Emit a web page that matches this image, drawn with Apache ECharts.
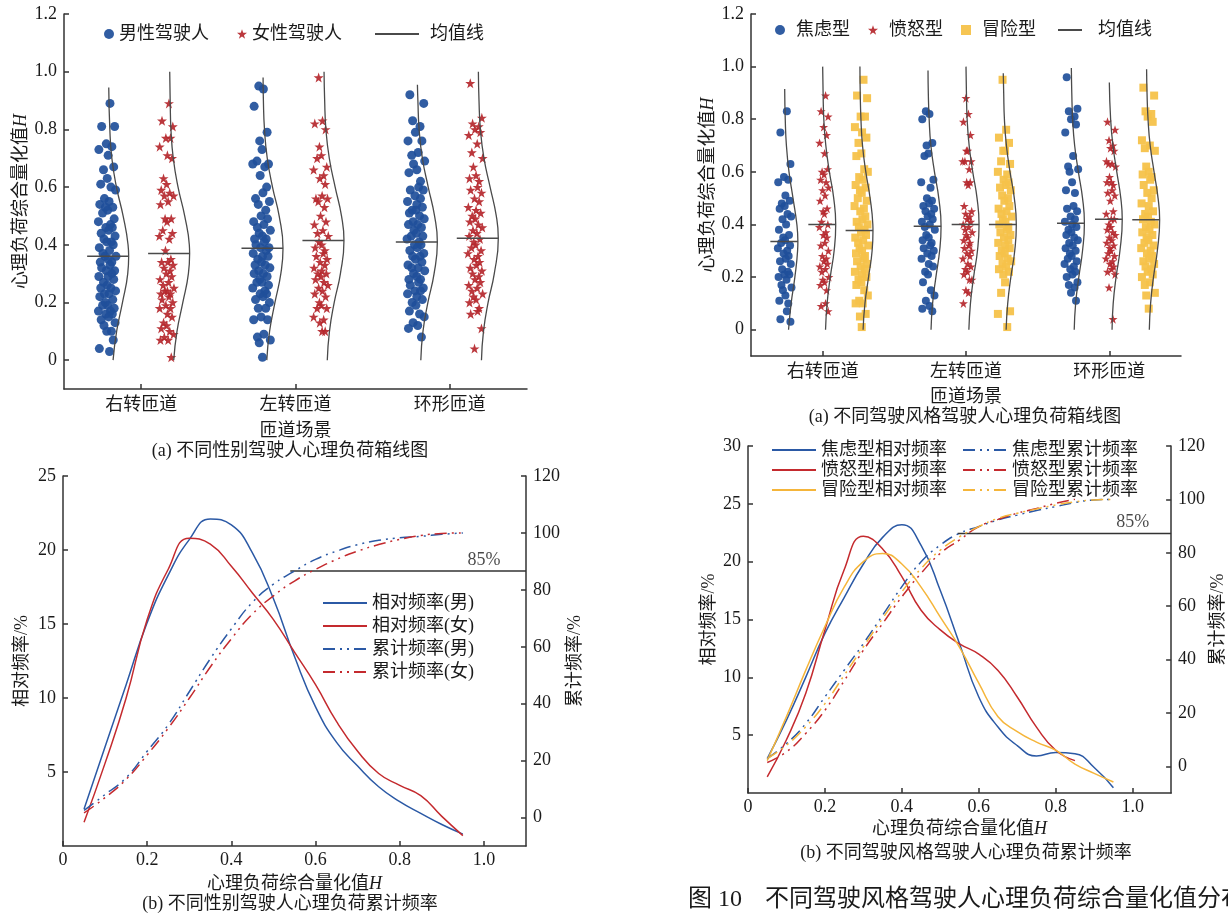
<!DOCTYPE html>
<html>
<head>
<meta charset="utf-8">
<script src="https://cdn.jsdelivr.net/npm/echarts@6/dist/echarts.min.js"></script>
<style>
html, body { margin: 0; padding: 0; background: #fff; }
#main { width: 1228px; height: 917px; }
</style>
</head>
<body>
<div id="main"></div>
<script>
// 匝道场景
const SCENES = ['右转匝道', '左转匝道', '环形匝道'];

// (a) 左图：性别，三个场景各一组
const MALE_R = [0.89,0.81,0.81,0.75,0.74,0.73,0.71,0.67,0.66,0.63,0.61,0.60,0.59,0.56,0.55,0.54,0.53,0.53,0.52,0.51,0.49,0.48,0.47,0.46,0.46,0.45,0.44,0.43,0.42,0.41,0.41,0.40,0.39,0.38,0.37,0.36,0.36,0.35,0.34,0.34,0.33,0.32,0.31,0.31,0.30,0.29,0.29,0.28,0.27,0.26,0.25,0.25,0.24,0.23,0.23,0.22,0.21,0.20,0.19,0.19,0.18,0.17,0.17,0.16,0.16,0.15,0.14,0.13,0.12,0.10,0.10,0.07,0.04,0.03];
const MALE_L = [0.95,0.94,0.88,0.79,0.76,0.73,0.69,0.68,0.68,0.67,0.64,0.60,0.58,0.56,0.55,0.54,0.52,0.50,0.49,0.48,0.47,0.46,0.45,0.44,0.43,0.42,0.42,0.41,0.40,0.39,0.39,0.38,0.37,0.36,0.36,0.35,0.34,0.33,0.33,0.32,0.31,0.30,0.30,0.29,0.28,0.27,0.27,0.26,0.25,0.24,0.23,0.23,0.22,0.21,0.20,0.18,0.18,0.15,0.14,0.14,0.09,0.08,0.07,0.06,0.01];
const MALE_H = [0.92,0.89,0.83,0.81,0.79,0.76,0.76,0.72,0.71,0.69,0.68,0.66,0.65,0.62,0.60,0.59,0.59,0.57,0.56,0.55,0.54,0.53,0.52,0.52,0.51,0.50,0.49,0.48,0.47,0.47,0.46,0.45,0.44,0.43,0.43,0.42,0.41,0.40,0.40,0.39,0.38,0.37,0.36,0.36,0.35,0.34,0.33,0.32,0.32,0.31,0.30,0.29,0.28,0.28,0.27,0.26,0.25,0.24,0.24,0.23,0.22,0.21,0.20,0.19,0.17,0.16,0.15,0.13,0.12,0.11,0.08];
const FEMALE_R = [0.89,0.83,0.81,0.77,0.77,0.74,0.71,0.70,0.63,0.61,0.59,0.58,0.57,0.57,0.55,0.54,0.49,0.49,0.48,0.45,0.44,0.43,0.42,0.38,0.35,0.34,0.34,0.33,0.32,0.31,0.30,0.29,0.28,0.27,0.26,0.25,0.24,0.24,0.23,0.23,0.22,0.21,0.20,0.19,0.18,0.18,0.16,0.15,0.13,0.12,0.11,0.10,0.09,0.08,0.07,0.07,0.01];
const FEMALE_L = [0.98,0.83,0.82,0.80,0.74,0.71,0.70,0.67,0.66,0.64,0.63,0.61,0.57,0.56,0.56,0.55,0.53,0.50,0.48,0.47,0.45,0.44,0.43,0.41,0.40,0.39,0.38,0.37,0.36,0.35,0.34,0.33,0.32,0.31,0.30,0.30,0.29,0.28,0.27,0.26,0.25,0.24,0.23,0.22,0.20,0.19,0.18,0.18,0.15,0.14,0.13,0.10,0.10];
const FEMALE_H = [0.96,0.84,0.82,0.81,0.80,0.79,0.78,0.75,0.72,0.70,0.67,0.64,0.63,0.62,0.60,0.59,0.58,0.56,0.55,0.53,0.52,0.51,0.50,0.49,0.48,0.47,0.46,0.45,0.44,0.43,0.42,0.41,0.40,0.39,0.38,0.37,0.36,0.35,0.34,0.33,0.32,0.31,0.30,0.29,0.28,0.27,0.26,0.25,0.24,0.23,0.22,0.21,0.20,0.18,0.17,0.16,0.11,0.04];
const MEAN_MALE = [0.36, 0.388, 0.41];
const MEAN_FEMALE = [0.37, 0.415, 0.423];
// 分布曲线 [H, 横向偏移]
const CURVE_MALE = [
  [[0,.028],[.1,.051],[.2,.089],[.3,.123],[.36,.129],[.4,.125],[.5,.093],[.6,.050],[.7,.020],[.8,.007],[.945,0]],
  [[0,.024],[.1,.042],[.2,.077],[.3,.115],[.388,.129],[.5,.104],[.6,.061],[.7,.027],[.8,.009],[.9,.002],[.98,0]],
  [[0,.022],[.1,.036],[.2,.068],[.3,.108],[.41,.129],[.5,.111],[.6,.070],[.7,.032],[.8,.011],[.9,.003],[.955,0]]
];
const CURVE_FEMALE = [
  [[0,.026],[.1,.047],[.2,.085],[.3,.121],[.37,.129],[.4,.127],[.5,.097],[.6,.054],[.7,.023],[.8,.008],[.9,.003],[1,0]],
  [[0,.021],[.1,.035],[.2,.066],[.3,.106],[.415,.129],[.5,.113],[.6,.072],[.7,.034],[.8,.012],[.9,.004],[1,0]],
  [[0,.020],[.1,.033],[.2,.063],[.3,.103],[.423,.129],[.5,.116],[.6,.076],[.7,.036],[.8,.013],[.9,.004],[1,0]]
];

// (a) 右图：驾驶风格
const ANX_R = [0.83,0.75,0.63,0.58,0.57,0.56,0.51,0.49,0.48,0.47,0.46,0.44,0.43,0.42,0.40,0.38,0.36,0.35,0.34,0.33,0.32,0.31,0.30,0.29,0.28,0.27,0.26,0.25,0.23,0.22,0.21,0.21,0.20,0.19,0.17,0.16,0.15,0.13,0.11,0.10,0.07,0.04,0.03];
const ANX_L = [0.83,0.82,0.80,0.71,0.70,0.67,0.66,0.57,0.56,0.54,0.50,0.49,0.48,0.47,0.46,0.45,0.44,0.43,0.42,0.41,0.40,0.39,0.38,0.36,0.35,0.34,0.33,0.32,0.31,0.30,0.29,0.28,0.27,0.25,0.24,0.22,0.21,0.18,0.15,0.13,0.11,0.09,0.08,0.07];
const ANX_H = [0.96,0.84,0.83,0.81,0.80,0.78,0.75,0.66,0.62,0.61,0.60,0.56,0.53,0.52,0.47,0.46,0.45,0.43,0.42,0.41,0.40,0.39,0.38,0.37,0.36,0.35,0.34,0.33,0.32,0.31,0.30,0.29,0.28,0.27,0.26,0.25,0.24,0.23,0.22,0.21,0.20,0.18,0.17,0.16,0.14,0.11];
const ANG_R = [0.89,0.83,0.81,0.77,0.74,0.71,0.67,0.61,0.60,0.59,0.57,0.56,0.54,0.53,0.51,0.49,0.46,0.45,0.44,0.41,0.40,0.39,0.37,0.36,0.35,0.33,0.32,0.30,0.28,0.27,0.26,0.25,0.24,0.23,0.22,0.20,0.19,0.18,0.17,0.15,0.10,0.09,0.07];
const ANG_L = [0.88,0.82,0.79,0.74,0.68,0.68,0.64,0.64,0.64,0.61,0.56,0.56,0.55,0.47,0.45,0.44,0.43,0.42,0.41,0.40,0.39,0.38,0.37,0.36,0.35,0.34,0.33,0.32,0.31,0.30,0.29,0.28,0.27,0.25,0.24,0.23,0.22,0.21,0.19,0.19,0.15,0.14,0.10];
const ANG_H = [0.79,0.76,0.72,0.70,0.69,0.68,0.64,0.63,0.63,0.62,0.58,0.56,0.56,0.55,0.53,0.52,0.51,0.49,0.45,0.44,0.42,0.42,0.40,0.39,0.38,0.37,0.36,0.35,0.34,0.33,0.32,0.31,0.30,0.29,0.28,0.27,0.26,0.25,0.24,0.23,0.22,0.21,0.16,0.04];
const RISK_R = [0.95,0.89,0.88,0.81,0.81,0.77,0.75,0.73,0.71,0.67,0.66,0.61,0.60,0.58,0.57,0.55,0.54,0.53,0.52,0.50,0.49,0.47,0.46,0.45,0.43,0.42,0.41,0.40,0.39,0.38,0.37,0.36,0.35,0.34,0.33,0.32,0.31,0.30,0.29,0.28,0.27,0.26,0.25,0.24,0.23,0.22,0.21,0.20,0.19,0.18,0.17,0.15,0.13,0.11,0.10,0.10,0.06,0.05,0.01];
const RISK_L = [0.95,0.76,0.73,0.71,0.68,0.68,0.64,0.63,0.60,0.59,0.57,0.56,0.55,0.54,0.53,0.51,0.50,0.49,0.47,0.46,0.45,0.44,0.43,0.42,0.41,0.40,0.39,0.38,0.37,0.36,0.35,0.34,0.33,0.32,0.31,0.30,0.29,0.28,0.27,0.26,0.25,0.24,0.23,0.22,0.21,0.18,0.14,0.07,0.06,0.01];
const RISK_H = [0.92,0.89,0.83,0.82,0.81,0.79,0.72,0.70,0.69,0.68,0.62,0.60,0.59,0.58,0.57,0.55,0.53,0.52,0.50,0.48,0.47,0.45,0.44,0.43,0.42,0.41,0.40,0.39,0.38,0.37,0.36,0.35,0.34,0.33,0.32,0.31,0.30,0.29,0.28,0.27,0.26,0.25,0.24,0.23,0.22,0.21,0.20,0.18,0.17,0.14,0.13,0.08];
const MEAN_ANX = [0.335, 0.393, 0.405];
const MEAN_ANG = [0.40, 0.40, 0.42];
const MEAN_RISK = [0.377, 0.40, 0.418];
const CURVE_ANX = [
  [[0,.027],[.1,.045],[.2,.071],[.3,.090],[.335,.092],[.4,.085],[.5,.058],[.6,.030],[.7,.012],[.8,.004],[.915,0]],
  [[0,.021],[.1,.032],[.2,.055],[.3,.081],[.393,.091],[.5,.075],[.6,.045],[.7,.020],[.8,.008],[.9,.002],[.985,0]],
  [[0,.020],[.1,.030],[.2,.052],[.3,.078],[.405,.091],[.5,.078],[.6,.049],[.7,.023],[.8,.009],[.9,.003],[.995,0]]
];
const CURVE_ANG = [
  [[0,.020],[.1,.031],[.2,.053],[.3,.080],[.4,.091],[.5,.077],[.6,.047],[.7,.022],[.8,.008],[.9,.003],[1,0]],
  [[0,.020],[.1,.031],[.2,.053],[.3,.080],[.4,.091],[.5,.077],[.6,.047],[.7,.022],[.8,.008],[.9,.003],[1,0]],
  [[0,.019],[.1,.027],[.2,.047],[.3,.074],[.42,.090],[.5,.080],[.6,.052],[.7,.025],[.8,.009],[.94,0]]
];
const CURVE_RISK = [
  [[0,.022],[.1,.035],[.2,.060],[.3,.085],[.377,.091],[.4,.090],[.5,.071],[.6,.041],[.7,.018],[.8,.007],[.9,.002],[1,0]],
  [[0,.020],[.1,.031],[.2,.053],[.3,.080],[.4,.091],[.5,.077],[.6,.047],[.7,.022],[.8,.008],[.9,.003],[.975,0]],
  [[0,.019],[.1,.028],[.2,.048],[.3,.075],[.418,.091],[.5,.080],[.6,.052],[.7,.025],[.8,.010],[.9,.003],[.99,0]]
];

// 散点横向抖动（手写）
const JIT = [0.3,-0.6,0.8,-0.1,0.5,-0.9,0.1,0.7,-0.4,0.0,-0.7,0.4,0.9,-0.3,0.2,-0.8,0.6,-0.2,0.05,-0.5,0.75,-0.95,0.35,-0.15,0.55,0.15,-0.65,0.85,-0.35,0.45,-0.05,0.65,-0.85,0.25,-0.45,0.95,-0.25,0.1,-0.75,0.5];

// (b) 频率曲线
const H_X = [0.05,0.10,0.15,0.20,0.25,0.30,0.35,0.40,0.45,0.50,0.55,0.60,0.65,0.70,0.75,0.80,0.85,0.90,0.95];
const REL_MALE = [2.5,6.7,10.9,15.1,18.3,20.7,22.1,21.7,19.8,16.7,12.8,9.4,7.0,5.4,4.0,3.0,2.2,1.45,0.8];
const REL_FEMALE = [1.6,5.6,10.0,15.3,18.7,20.8,20.4,18.9,17.1,15.3,13.1,10.9,8.4,6.4,4.9,4.1,3.4,2.0,0.7];
const CUM_MALE = [2.5,8.1,14,23.3,32.6,44.2,55.8,66.3,75.6,82,86.6,90.7,93.6,95.9,97.4,98.3,98.8,99.5,100];
const CUM_FEMALE = [1.6,7,13.4,22,31.4,41.9,52.9,62.8,71.5,77.9,83.1,87.2,90.7,93.6,95.9,97.7,99.1,99.8,100];
const LINE85_GENDER = [0.54, 86.6];

const REL_ANX = [2.97,6.3,10.0,13.8,16.9,19.8,22.1,23.2,21.4,17.5,12.9,8.3,5.7,4.1,3.2,3.5,3.4,2.2,0.46];
const REL_ANG = [1.4,4.6,8.6,14.1,19.3,22.2,21.1,18.7,15.8,14.1,12.9,12.0,10.6,8.3,5.7,3.7,2.8];
const REL_RISK = [2.8,6.6,10.6,14.4,17.8,20.0,20.7,19.8,17.8,15.2,12.6,9.5,6.6,5.3,4.4,3.7,2.5,1.7,0.95];
const CUM_ANX = [2.9,8.5,16,26,36,46,56.6,67.3,76.6,82.9,87.3,89.8,92.3,94.1,95.8,97.3,98.8,99.8,100];
const CUM_ANG = [1.4,5.4,12.3,21,32,43.5,53.5,63.5,72.3,79.8,84.8,89.8,92.5,94.8,96.6,98.5,100];
const CUM_RISK = [2.9,7.9,14.8,23.5,34.1,44.8,55.4,65.4,74.1,81,86,89.8,92.9,94.8,96.4,97.9,99.1,99.8,100];
const LINE85_STYLE = [0.545, 87.25];

const Y_TICKS_A = [0, 0.2, 0.4, 0.6, 0.8, 1.0, 1.2];
const X_TICKS_B = [0, 0.2, 0.4, 0.6, 0.8, 1.0];
const Y_RIGHT_TICKS = [0, 20, 40, 60, 80, 100, 120];

// ---- 样式 ----
const FONT = '"Liberation Serif","Noto Sans CJK SC",serif';
const TXT = '#1a1a1a';
const AX = '#333';
const C_BLUE = '#1f4f9a', C_RED = '#b5272d', C_YEL = '#f5c24a';
const L_BLUE = '#2b59a5', L_RED = '#c42a2e', L_YEL = '#f5b53a';
const CURVE_C = '#4a4a4a';
const STAR = 'path://M50,2 L61.8,36.2 L97.6,36.2 L68.5,57.8 L79.4,92 L50,71 L20.6,92 L31.5,57.8 L2.4,36.2 L38.2,36.2 Z';
const DASHDOT = [12, 5, 2, 5, 2, 5];
const fmtA = v => (v === 0 ? '0' : v.toFixed(1));
const legText = pad => ({ color: TXT, fontSize: 18, fontFamily: FONT, padding: [0, 0, 0, pad || 0] });

function baseAxis(extra) {
  return Object.assign({
    type: 'value',
    splitLine: { show: false },
    axisLine: { onZero: false, lineStyle: { color: AX, width: 1.5 } },
    axisTick: { inside: true, length: 5, lineStyle: { color: AX, width: 1.5 } },
    axisLabel: { color: TXT, fontSize: 18, fontFamily: FONT },
    nameTextStyle: { color: TXT, fontSize: 18, fontFamily: FONT,
      rich: { i: { fontStyle: 'italic', fontSize: 18, fontFamily: '"Liberation Serif"', color: TXT } } }
  }, extra);
}
function withLabels(ax, vals, fmt, margin) {
  ax.axisLabel = Object.assign({}, ax.axisLabel, { customValues: vals, formatter: fmt, margin: margin });
  ax.axisTick = Object.assign({}, ax.axisTick, { customValues: vals });
  return ax;
}

// 散点
function points(groups, base, shift, spread) {
  const out = [];
  groups.forEach((vals, c) => {
    vals.forEach((v, i) => out.push([c + 1 + base + shift + JIT[(i + c * 13) % JIT.length] * spread, v]));
  });
  return out;
}
function curves(xi, yi, list, base) {
  return list.map((cv, c) => ({
    type: 'line', xAxisIndex: xi, yAxisIndex: yi, smooth: true, symbol: 'none', silent: true, z: 5,
    lineStyle: { color: CURVE_C, width: 1.3 },
    data: cv.map(p => [c + 1 + base + p[1], p[0]])
  }));
}
function means(xi, yi, list, ms, base, back) {
  return ms.map((m, c) => {
    const peak = Math.max.apply(null, list[c].map(p => p[1]));
    return {
      type: 'line', name: '均值线', xAxisIndex: xi, yAxisIndex: yi, symbol: 'none', silent: true, z: 6,
      lineStyle: { color: CURVE_C, width: 1.5 }, itemStyle: { color: CURVE_C },
      data: [[c + 1 + base - back, m], [c + 1 + base + peak, m]]
    };
  });
}
function freq(name, xi, yi, ys, color, dash) {
  return {
    type: 'line', name: name, xAxisIndex: xi, yAxisIndex: yi, smooth: true, symbol: 'none', z: 4,
    lineStyle: { color: color, width: 1.5, type: dash || 'solid' },
    itemStyle: { color: color },
    data: ys.map((v, i) => [H_X[i], v])
  };
}
function line85(xi, yi, p) {
  return [{
    type: 'line', xAxisIndex: xi, yAxisIndex: yi, symbol: 'none', silent: true, z: 3,
    lineStyle: { color: AX, width: 1.5 }, data: [[p[0], p[1]], [1.1, p[1]]]
  }, {
    type: 'scatter', xAxisIndex: xi, yAxisIndex: yi, symbolSize: 0, silent: true,
    label: { show: true, formatter: '85%', position: 'top', distance: 2, color: TXT, fontSize: 18, fontFamily: FONT },
    data: [[1.0, p[1]]]
  }];
}

const OFF_M = -0.21, OFF_F = 0.185;          // 左图两组的横向位置
const OFF_A = -0.265, OFF_N = 0.0, OFF_V = 0.26; // 右图三组

const xA = (gi, gap) => withLabels(baseAxis({ gridIndex: gi, min: 0.5, max: 3.5, name: '匝道场景',
  nameLocation: 'middle', nameGap: gap }), [1, 2, 3], v => SCENES[Math.round(v) - 1], 7);
const yA = (gi, pad) => withLabels(baseAxis({ gridIndex: gi, min: -0.1, max: 1.2,
  name: '心理负荷综合量化值{i|H}', nameLocation: 'middle', nameRotate: 90, nameGap: 34 }), Y_TICKS_A, fmtA, 7);

const lineLegend = { itemStyle: { opacity: 0 } };

const option = {
  animation: false,
  backgroundColor: '#fff',
  textStyle: { fontFamily: FONT },
  grid: [
    { left: 64, top: 14, width: 463, height: 375 },
    { left: 751, top: 14, width: 430, height: 342 },
    { left: 63, top: 476, width: 463, height: 370 },
    { left: 748, top: 446, width: 440, height: 347 }
  ],
  xAxis: [
    xA(0, 33), xA(1, 32),
    withLabels(baseAxis({ gridIndex: 2, min: 0, max: 1.1, name: '心理负荷综合量化值{i|H}',
      nameLocation: 'middle', nameGap: 29 }), X_TICKS_B, fmtA, 5),
    withLabels(baseAxis({ gridIndex: 3, min: 0, max: 1.1, name: '心理负荷综合量化值{i|H}',
      nameLocation: 'middle', nameGap: 27 }), X_TICKS_B, fmtA, 5)
  ],
  yAxis: [
    yA(0), yA(1),
    withLabels(baseAxis({ gridIndex: 2, min: 0, max: 25, name: '相对频率/%', nameLocation: 'middle',
      nameRotate: 90, nameGap: 32 }), [5, 10, 15, 20, 25], v => String(v), 7),
    withLabels(baseAxis({ gridIndex: 2, min: -10, max: 120, position: 'right', name: '累计频率/%',
      nameLocation: 'middle', nameRotate: 90, nameGap: 40 }), Y_RIGHT_TICKS, v => String(v), 7),
    withLabels(baseAxis({ gridIndex: 3, min: 0, max: 30, name: '相对频率/%', nameLocation: 'middle',
      nameRotate: 90, nameGap: 30 }), [5, 10, 15, 20, 25, 30], v => String(v), 7),
    withLabels(baseAxis({ gridIndex: 3, min: -10, max: 120, position: 'right', name: '累计频率/%',
      nameLocation: 'middle', nameRotate: 90, nameGap: 36 }), Y_RIGHT_TICKS, v => String(v), 7)
  ],
  legend: [
    { left: 99, top: 20, itemWidth: 10, itemHeight: 10, itemGap: 28, data: ['男性驾驶人', '女性驾驶人'],
      textStyle: legText(0) },
    Object.assign({ left: 369, top: 20, itemWidth: 44, itemHeight: 10, data: ['均值线'],
      textStyle: legText(6) }, lineLegend),
    { left: 770, top: 16, itemWidth: 10, itemHeight: 10, itemGap: 18, data: ['焦虑型', '愤怒型', '冒险型'],
      textStyle: legText(6) },
    Object.assign({ left: 1052, top: 16, itemWidth: 24, itemHeight: 10, data: ['均值线'],
      textStyle: legText(11) }, lineLegend),
    Object.assign({ left: 317, top: 589, orient: 'vertical', itemWidth: 44, itemHeight: 14, itemGap: 5,
      data: ['相对频率(男)', '相对频率(女)', '累计频率(男)', '累计频率(女)'],
      textStyle: legText(0) }, lineLegend),
    Object.assign({ left: 766, top: 436, orient: 'vertical', itemWidth: 44, itemHeight: 14, itemGap: 2,
      data: ['焦虑型相对频率', '愤怒型相对频率', '冒险型相对频率'],
      textStyle: legText(0) }, lineLegend),
    Object.assign({ left: 957, top: 436, orient: 'vertical', itemWidth: 44, itemHeight: 14, itemGap: 2,
      data: ['焦虑型累计频率', '愤怒型累计频率', '冒险型累计频率'],
      textStyle: legText(0) }, lineLegend)
  ],
  graphic: [
    { type: 'text', x: 290, y: 451, style: { text: '(a) 不同性别驾驶人心理负荷箱线图', fill: TXT, font: '18px ' + FONT, textAlign: 'center', textVerticalAlign: 'middle' } },
    { type: 'text', x: 965, y: 417, style: { text: '(a) 不同驾驶风格驾驶人心理负荷箱线图', fill: TXT, font: '18px ' + FONT, textAlign: 'center', textVerticalAlign: 'middle' } },
    { type: 'text', x: 290, y: 904, style: { text: '(b) 不同性别驾驶人心理负荷累计频率', fill: TXT, font: '18px ' + FONT, textAlign: 'center', textVerticalAlign: 'middle' } },
    { type: 'text', x: 966, y: 853, style: { text: '(b) 不同驾驶风格驾驶人心理负荷累计频率', fill: TXT, font: '18px ' + FONT, textAlign: 'center', textVerticalAlign: 'middle' } },
    { type: 'text', x: 688, y: 900, style: { text: '图 10', fill: TXT, font: '24px ' + FONT, textAlign: 'left', textVerticalAlign: 'middle' } },
    { type: 'text', x: 765, y: 900, style: { text: '不同驾驶风格驾驶人心理负荷综合量化值分布', fill: TXT, font: '24px ' + FONT, textAlign: 'left', textVerticalAlign: 'middle' } }
  ],
  series: [].concat(
    // (a) 左
    [{ type: 'scatter', name: '男性驾驶人', xAxisIndex: 0, yAxisIndex: 0, symbol: 'circle', symbolSize: 9, z: 2,
       itemStyle: { color: C_BLUE, opacity: 0.92 }, data: points([MALE_R, MALE_L, MALE_H], OFF_M, -0.01, 0.06) },
     { type: 'scatter', name: '女性驾驶人', xAxisIndex: 0, yAxisIndex: 0, symbol: STAR, symbolSize: 10, z: 2,
       itemStyle: { color: C_RED, opacity: 0.92 }, data: points([FEMALE_R, FEMALE_L, FEMALE_H], OFF_F, -0.02, 0.05) }],
    curves(0, 0, CURVE_MALE, OFF_M), curves(0, 0, CURVE_FEMALE, OFF_F),
    means(0, 0, CURVE_MALE, MEAN_MALE, OFF_M, 0.14), means(0, 0, CURVE_FEMALE, MEAN_FEMALE, OFF_F, 0.14),
    // (a) 右
    [{ type: 'scatter', name: '焦虑型', xAxisIndex: 1, yAxisIndex: 1, symbol: 'circle', symbolSize: 8, z: 2,
       itemStyle: { color: C_BLUE, opacity: 0.92 }, data: points([ANX_R, ANX_L, ANX_H], OFF_A, 0, 0.05) },
     { type: 'scatter', name: '愤怒型', xAxisIndex: 1, yAxisIndex: 1, symbol: STAR, symbolSize: 9, z: 2,
       itemStyle: { color: C_RED, opacity: 0.92 }, data: points([ANG_R, ANG_L, ANG_H], OFF_N, 0.01, 0.035) },
     { type: 'scatter', name: '冒险型', xAxisIndex: 1, yAxisIndex: 1, symbol: 'rect', symbolSize: 8, z: 2,
       itemStyle: { color: C_YEL, opacity: 0.95 }, data: points([RISK_R, RISK_L, RISK_H], OFF_V, 0.01, 0.05) }],
    curves(1, 1, CURVE_ANX, OFF_A), curves(1, 1, CURVE_ANG, OFF_N), curves(1, 1, CURVE_RISK, OFF_V),
    means(1, 1, CURVE_ANX, MEAN_ANX, OFF_A, 0.1), means(1, 1, CURVE_ANG, MEAN_ANG, OFF_N, 0.1),
    means(1, 1, CURVE_RISK, MEAN_RISK, OFF_V, 0.1),
    // (b) 左
    [freq('相对频率(男)', 2, 2, REL_MALE, L_BLUE), freq('相对频率(女)', 2, 2, REL_FEMALE, L_RED),
     freq('累计频率(男)', 2, 3, CUM_MALE, L_BLUE, DASHDOT), freq('累计频率(女)', 2, 3, CUM_FEMALE, L_RED, DASHDOT)],
    line85(2, 3, LINE85_GENDER),
    // (b) 右
    [freq('焦虑型相对频率', 3, 4, REL_ANX, L_BLUE), freq('愤怒型相对频率', 3, 4, REL_ANG, L_RED),
     freq('冒险型相对频率', 3, 4, REL_RISK, L_YEL),
     freq('焦虑型累计频率', 3, 5, CUM_ANX, L_BLUE, DASHDOT), freq('愤怒型累计频率', 3, 5, CUM_ANG, L_RED, DASHDOT),
     freq('冒险型累计频率', 3, 5, CUM_RISK, L_YEL, DASHDOT)],
    line85(3, 5, LINE85_STYLE)
  )
};

const chart = echarts.init(document.getElementById('main'), null, { renderer: 'canvas' });
chart.setOption(option);
</script>
</body>
</html>
